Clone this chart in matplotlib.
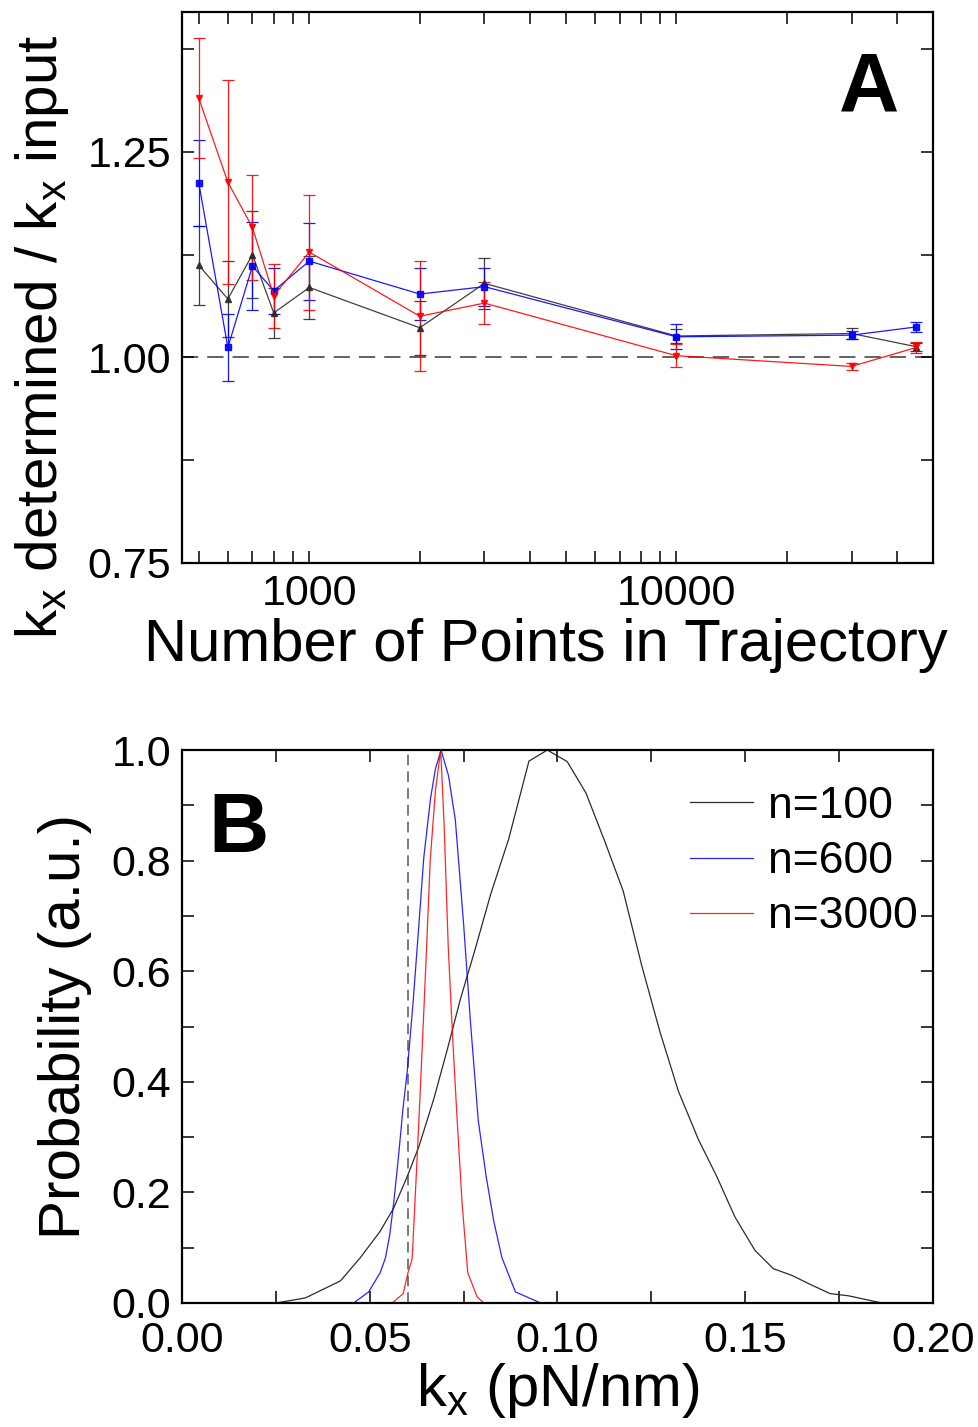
import matplotlib
matplotlib.use("Agg")
import matplotlib.pyplot as plt
import numpy as np

plt.rcParams["font.family"] = ["Liberation Sans", "DejaVu Sans"]
plt.rcParams["mathtext.fontset"] = "custom"
plt.rcParams["mathtext.rm"] = "Liberation Sans"
plt.rcParams["mathtext.it"] = "Liberation Sans:italic"

# ---- Panel A: k_x ratio vs trajectory length ----
n_points = [500, 600, 700, 800, 1000, 2000, 3000, 10000, 30000, 45000]

ratio_black = [1.112, 1.071, 1.125, 1.054, 1.085, 1.036, 1.090, 1.026, 1.029, 1.013]
err_black = [0.048, 0.046, 0.053, 0.030, 0.038, 0.033, 0.031, 0.009, 0.007, 0.005]

ratio_blue = [1.212, 1.012, 1.111, 1.081, 1.117, 1.077, 1.086, 1.025, 1.027, 1.037]
err_blue = [0.052, 0.041, 0.054, 0.028, 0.047, 0.032, 0.023, 0.015, 0.005, 0.006]

ratio_red = [1.315, 1.213, 1.158, 1.075, 1.128, 1.050, 1.066, 1.002, 0.989, 1.012]
err_red = [0.073, 0.124, 0.064, 0.039, 0.070, 0.067, 0.026, 0.014, 0.004, 0.007]

# ---- Panel B: k_x distributions ----
kx_n100 = [0.0, 0.025, 0.0328, 0.0422, 0.0475, 0.0527, 0.0564, 0.060, 0.0631,
           0.0671, 0.0706, 0.0742, 0.0777, 0.0822, 0.087, 0.0924, 0.0973, 0.1026,
           0.1076, 0.1127, 0.1175, 0.1224, 0.1273, 0.1322, 0.1375, 0.1424, 0.1473,
           0.1526, 0.1575, 0.1624, 0.1672, 0.1726, 0.1775, 0.1864, 0.2]
p_n100 = [0.0, 0.0, 0.009, 0.040, 0.082, 0.129, 0.172, 0.229, 0.283,
          0.370, 0.457, 0.551, 0.631, 0.739, 0.839, 0.980, 1.0, 0.979,
          0.922, 0.833, 0.745, 0.611, 0.490, 0.383, 0.296, 0.229, 0.155,
          0.095, 0.062, 0.050, 0.034, 0.017, 0.013, 0.0, 0.0]

kx_n600 = [0.0, 0.0457, 0.0497, 0.0528, 0.0542, 0.0553, 0.0564, 0.0577, 0.0588,
           0.060, 0.0615, 0.0628, 0.0644, 0.0662, 0.0675, 0.069, 0.071, 0.0728,
           0.075, 0.0768, 0.0789, 0.081, 0.083, 0.0852, 0.0888, 0.0955, 0.2]
p_n600 = [0.0, 0.0, 0.020, 0.055, 0.082, 0.122, 0.182, 0.268, 0.348,
          0.420, 0.540, 0.658, 0.806, 0.913, 0.966, 1.0, 0.953, 0.873,
          0.685, 0.510, 0.330, 0.229, 0.149, 0.082, 0.020, 0.0, 0.0]

kx_n3000 = [0.0, 0.0560, 0.0589, 0.0602, 0.0613, 0.0626, 0.0636, 0.0649, 0.0661,
            0.0675, 0.0689, 0.0698, 0.0709, 0.0720, 0.0733, 0.0746, 0.0761,
            0.0786, 0.0804, 0.2]
p_n3000 = [0.0, 0.0, 0.017, 0.055, 0.080, 0.260, 0.405, 0.605, 0.800,
           0.927, 1.0, 0.866, 0.645, 0.490, 0.328, 0.180, 0.055,
           0.011, 0.0, 0.0]

kx_input = 0.0602

C_BLACK = "#2b2b2b"
C_BLUE = "#0000ff"
C_RED = "#ff0000"

fig = plt.figure(figsize=(9.79, 14.27), dpi=100)
ax_a = fig.add_axes([0.1859, 0.6055, 0.7671, 0.3861])
ax_b = fig.add_axes([0.1859, 0.0869, 0.7671, 0.3875])

tick_kw = dict(direction="in", top=True, right=True, length=8.5, width=1.1)
for ax in (ax_a, ax_b):
    for sp in ax.spines.values():
        sp.set_linewidth(1.6)
    ax.tick_params(which="both", labelsize=31, pad=8, **tick_kw)
ax_b.tick_params(axis="x", pad=13)

# panel A
ax_a.axhline(1.0, color="#555555", linestyle=(0, (9, 5)), linewidth=1.3, zorder=1)
series = [
    (ratio_black, err_black, C_BLACK, "^"),
    (ratio_blue, err_blue, C_BLUE, "s"),
    (ratio_red, err_red, C_RED, "v"),
]
for vals, errs, color, marker in series:
    ax_a.errorbar(n_points, vals, yerr=errs, color=color, marker=marker,
                  markersize=4, linewidth=0.9, elinewidth=0.9, capsize=4.5,
                  capthick=0.9, alpha=0.9, zorder=3)

ax_a.set_xscale("log")
ax_a.set_xlim(450, 50000)
ax_a.set_ylim(0.75, 1.42)
ax_a.set_yticks([0.75, 1.00, 1.25])
ax_a.set_yticks(np.arange(0.75, 1.42, 0.125), minor=True)
ax_a.set_yticklabels(["0.75", "1.00", "1.25"])
ax_a.set_xticks([1000, 10000])
ax_a.set_xticklabels(["1000", "10000"])
ax_a.xaxis.set_minor_formatter(matplotlib.ticker.NullFormatter())
ax_a.set_xlabel("Number of Points in Trajectory", fontsize=43, labelpad=0)
ax_a.xaxis.set_label_coords(0.485, -0.1, transform=ax_a.transAxes)
fig.text(0.043, 0.764, r"k$_\mathrm{x}$ determined / k$_\mathrm{x}$ input",
         rotation=90, ha="center", va="center", fontsize=42)
ax_a.text(0.915, 0.86, "A", transform=ax_a.transAxes, fontsize=60,
          fontweight="bold", ha="center", va="center")

# panel B
ax_b.axvline(kx_input, color="#555555", linestyle=(0, (7, 4)), linewidth=1.1, zorder=1)
ax_b.plot(kx_n100, p_n100, color=C_BLACK, linewidth=0.9, label="n=100")
ax_b.plot(kx_n600, p_n600, color=C_BLUE, linewidth=0.9, alpha=0.85, label="n=600")
ax_b.plot(kx_n3000, p_n3000, color=C_RED, linewidth=0.9, alpha=0.85, label="n=3000")
ax_b.set_xlim(0, 0.2)
ax_b.set_ylim(0, 1.0)
ax_b.set_xticks(np.arange(0, 0.201, 0.05))
ax_b.set_xticklabels(["0.00", "0.05", "0.10", "0.15", "0.20"])
ax_b.set_xticks(np.arange(0, 0.201, 0.025), minor=True)
ax_b.set_yticks(np.arange(0, 1.01, 0.2))
ax_b.set_yticklabels(["0.0", "0.2", "0.4", "0.6", "0.8", "1.0"])
ax_b.set_yticks(np.arange(0, 1.01, 0.1), minor=True)
ax_b.set_xlabel(r"k$_\mathrm{x}$ (pN/nm)", fontsize=43, labelpad=0)
ax_b.set_ylabel("Probability (a.u.)", fontsize=42, labelpad=14)
ax_b.text(0.075, 0.855, "B", transform=ax_b.transAxes, fontsize=60,
          fontweight="bold", ha="center", va="center")
ax_b.legend(loc="upper right", bbox_to_anchor=(0.98, 0.935), frameon=False,
            fontsize=32, handlelength=1.4, handletextpad=0.35,
            labelspacing=0.32, borderaxespad=0, borderpad=0)

fig.savefig("out.png", dpi=100)
